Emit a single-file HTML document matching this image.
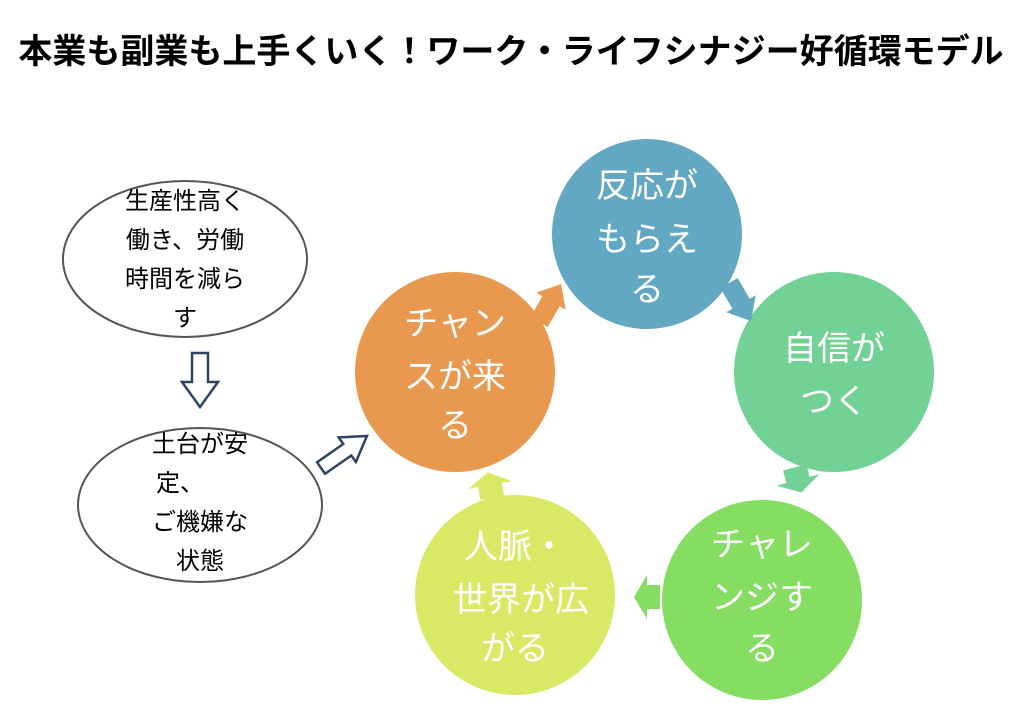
<!DOCTYPE html>
<html><head><meta charset="utf-8"><style>
body{margin:0;background:#fff;}
svg{display:block;}
text{font-family:"Liberation Sans","Noto Sans CJK JP",sans-serif;}
</style></head><body>
<svg width="1024" height="721" viewBox="0 0 1024 721">
<text x="511" y="63" text-anchor="middle" font-size="34" font-weight="bold" fill="#000">本業も副業も上手くいく！ワーク・ライフシナジー好循環モデル</text>

<ellipse cx="185" cy="259" rx="122" ry="78" fill="#fff" stroke="#555" stroke-width="2"/>
<g font-size="24" fill="#000" text-anchor="middle">
<text x="185" y="209">生産性高く</text>
<text x="185" y="248">働き、労働</text>
<text x="185" y="287">時間を減ら</text>
<text x="185" y="326">す</text>
</g>
<ellipse cx="200" cy="505" rx="122" ry="77" fill="#fff" stroke="#555" stroke-width="2"/>
<g font-size="24" fill="#000" text-anchor="middle">
<text x="200" y="452">土台が安</text>
<text x="180" y="491">定、</text>
<text x="200" y="530">ご機嫌な</text>
<text x="200" y="569">状態</text>
</g>

<polygon points="192,353 208,353 208,382 218,382 200,407 182,382 192,382" fill="#fff" stroke="#2F4460" stroke-width="2.5"/>
<g transform="translate(344,452) rotate(-35)">
<polygon points="-28,-7 4,-7 4,-15 28,0 4,15 4,7 -28,7" fill="#fff" stroke="#2F4460" stroke-width="2.5"/>
</g>

<circle cx="647" cy="234" r="95" fill="#63A8C2"/>
<circle cx="834" cy="372" r="100" fill="#72D195"/>
<circle cx="762" cy="600" r="100" fill="#85DE62"/>
<circle cx="515" cy="595" r="100" fill="#D8E966"/>
<circle cx="455" cy="372" r="100" fill="#E8994F"/>

<g>
<g transform="translate(550,303) rotate(-60)"><polygon points="-22,-10 2,-10 2,-17 22,0 2,17 2,10 -22,10" fill="#E8994F"/></g>
<g transform="translate(740,302) rotate(60)"><polygon points="-22,-10 2,-10 2,-17 22,0 2,17 2,10 -22,10" fill="#63A8C2"/></g>
<g transform="translate(798,480) rotate(75)"><polygon points="-13,-12 0,-12 0,-22 13,0 0,22 0,12 -13,12" fill="#72D195"/></g>
<g transform="translate(647,597) rotate(180)"><polygon points="-13,-12 0,-12 0,-22 13,0 0,22 0,12 -13,12" fill="#85DE62"/></g>
<g transform="translate(490,485) rotate(-100)"><polygon points="-13,-12 0,-12 0,-22 13,0 0,22 0,12 -13,12" fill="#D8E966"/></g>
</g>

<g font-size="34" fill="#fff" text-anchor="middle">
<text x="647" y="197">反応が</text>
<text x="647" y="251">もらえ</text>
<text x="647" y="301">る</text>
<text x="834" y="360">自信が</text>
<text x="834" y="413">つく</text>
<text x="762" y="556">チャレ</text>
<text x="762" y="609">ンジす</text>
<text x="762" y="660">る</text>
<text x="515" y="558">人脈・</text>
<text x="521" y="611">世界が広</text>
<text x="515" y="660">がる</text>
<text x="455" y="335">チャン</text>
<text x="455" y="388">スが来</text>
<text x="455" y="437">る</text>
</g>
</svg>
</body></html>
